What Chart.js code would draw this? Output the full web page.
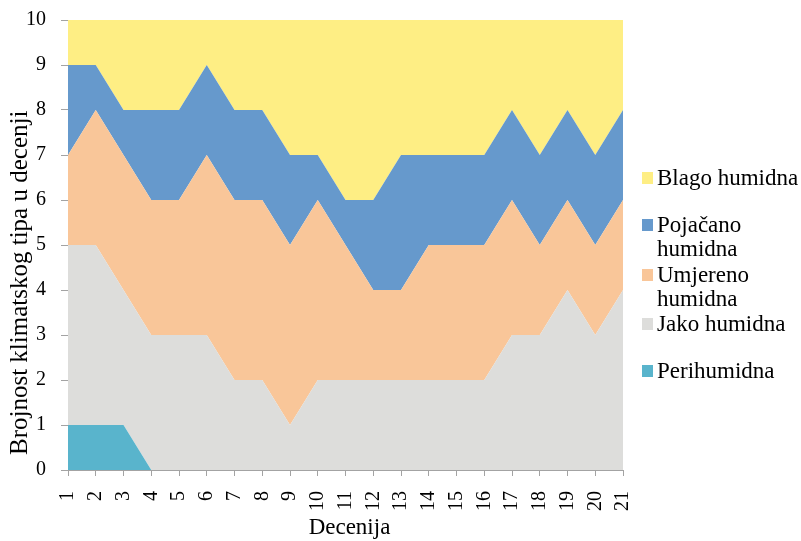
<!DOCTYPE html>
<html>
<head>
<meta charset="utf-8">
<script src="https://cdn.jsdelivr.net/npm/chart.js@4/dist/chart.umd.min.js"></script>
<style>
  html, body { margin: 0; padding: 0; background: #fff; }
  #wrap { position: relative; width: 801px; height: 541px; }
  #legend { position: absolute; left: 642px; top: 0; width: 159px; height: 541px;
            font-family: 'Liberation Serif', 'Times New Roman', serif; font-size: 23px; color: #000; }
  .item { position: absolute; left: 0; display: flex; align-items: flex-start; line-height: 24px; }
  .sw { width: 11px; height: 12px; margin-top: 6px; margin-right: 4px; flex: none; }
  .txt { width: 144px; }
</style>
</head>
<body>
<div id="wrap">
  <canvas id="c" width="801" height="541"></canvas>
  <div id="legend"></div>
</div>
<script>
// Decades along the x axis
const decades = ['1','2','3','4','5','6','7','8','9','10','11','12','13','14','15','16','17','18','19','20','21'];

// Number of stations of each climate type per decade (stacked bottom to top)
const perihumidna      = [1,1,1,0,0,0,0,0,0,0,0,0,0,0,0,0,0,0,0,0,0];
const jakoHumidna      = [4,4,3,3,3,3,2,2,1,2,2,2,2,2,2,2,3,3,4,3,4];
const umjerenoHumidna  = [2,3,3,3,3,4,4,4,4,4,3,2,2,3,3,3,3,2,2,2,2];
const pojacanoHumidna  = [2,1,1,2,2,2,2,2,2,1,1,2,3,2,2,2,2,2,2,2,2];
const blagoHumidna     = [1,1,2,2,2,1,2,2,3,3,4,4,3,3,3,3,2,3,2,3,2];

const yTicks = [0,1,2,3,4,5,6,7,8,9,10];

const xTitle = 'Decenija';
const yTitle = 'Brojnost klimatskog tipa u decenji';

const serif = "'Liberation Serif', 'Times New Roman', serif";

function area(label, data, color, fill) {
  return {
    label, data, fill,
    backgroundColor: color,
    borderColor: color,
    borderWidth: 0,
    pointRadius: 0,
    tension: 0
  };
}

const datasets = [
  area('Perihumidna', perihumidna, 'rgb(89,180,204)', 'origin'),
  area('Jako humidna', jakoHumidna, 'rgb(221,221,219)', '-1'),
  area('Umjereno humidna', umjerenoHumidna, 'rgb(249,198,153)', '-1'),
  area('Pojačano humidna', pojacanoHumidna, 'rgb(102,153,204)', '-1'),
  area('Blago humidna', blagoHumidna, 'rgb(254,238,132)', '-1')
];

const axisGrey = '#a3a3a3';

// Axis titles placed relative to the plot area
const axisTitles = {
  id: 'axisTitles',
  afterDraw(chart) {
    const { ctx, chartArea } = chart;
    ctx.save();
    ctx.fillStyle = '#000';
    ctx.textBaseline = 'alphabetic';

    ctx.font = "23px " + serif;
    ctx.textAlign = 'center';
    ctx.fillText(xTitle, (chartArea.left + chartArea.right) / 2 + 4, chart.height - 7);

    ctx.font = "25px " + serif;
    ctx.textAlign = 'left';
    ctx.translate(27, chartArea.bottom - 15);
    ctx.rotate(-Math.PI / 2);
    ctx.fillText(yTitle, 0, 0);
    ctx.restore();
  }
};

const chart = new Chart(document.getElementById('c'), {
  type: 'line',
  data: { labels: decades, datasets },
  plugins: [axisTitles],
  options: {
    responsive: false,
    animation: false,
    layout: { padding: { left: 0, top: 20, right: 178, bottom: 0 } },
    plugins: { legend: { display: false }, tooltip: { enabled: false } },
    scales: {
      x: {
        offset: false,
        grid: { display: true, drawOnChartArea: false, drawTicks: true, tickLength: 6, color: axisGrey },
        border: { display: true, color: axisGrey, width: 1 },
        ticks: { autoSkip: false, minRotation: 90, maxRotation: 90, padding: 15,
                 color: '#000', font: { family: serif, size: 20 } },
        afterFit: (s) => { s.height = 71; s.paddingLeft = 0; s.paddingRight = 0; }
      },
      y: {
        stacked: true,
        min: 0, max: 10,
        afterBuildTicks: (s) => { s.ticks = yTicks.map(v => ({ value: v })); },
        grid: { display: true, drawOnChartArea: false, drawTicks: true, tickLength: 7, color: axisGrey },
        border: { display: true, color: axisGrey, width: 1 },
        ticks: { padding: 15, color: '#000', font: { family: serif, size: 20 } },
        afterFit: (s) => { s.width = 68; s.paddingTop = 0; s.paddingBottom = 0; }
      }
    }
  }
});

// Legend beside the plot, top entry = top area
const legendTops = [166, 213, 263, 312, 359];
const legend = document.getElementById('legend');
chart.data.datasets.slice().reverse().forEach((ds, i) => {
  const item = document.createElement('div');
  item.className = 'item';
  item.style.top = legendTops[i] + 'px';
  const sw = document.createElement('div');
  sw.className = 'sw';
  sw.style.background = ds.backgroundColor;
  const txt = document.createElement('div');
  txt.className = 'txt';
  txt.textContent = ds.label;
  item.appendChild(sw);
  item.appendChild(txt);
  legend.appendChild(item);
});
</script>
</body>
</html>
